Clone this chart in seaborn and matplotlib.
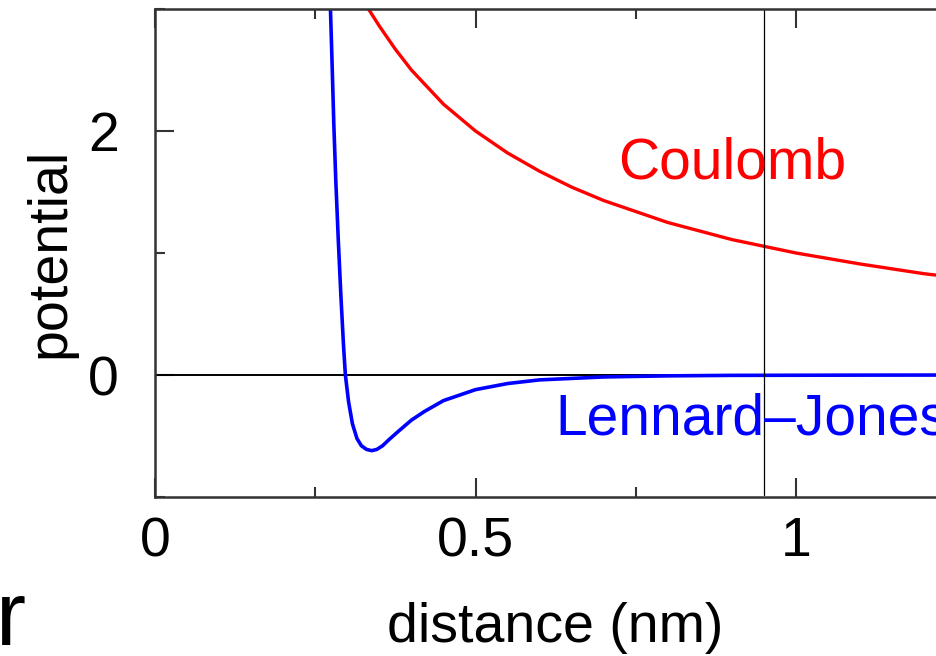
import numpy as np
import matplotlib
matplotlib.use("Agg")
import matplotlib.pyplot as plt
import seaborn as sns

# values
r_coulomb = [0.325, 0.333, 0.35, 0.375, 0.40, 0.45, 0.50, 0.55, 0.60, 0.65, 0.70,
             0.80, 0.90, 1.00, 1.10, 1.20, 1.30]
v_coulomb = [3.08, 3.00, 2.86, 2.67, 2.50, 2.22, 2.00, 1.82, 1.67, 1.54, 1.43,
             1.25, 1.11, 1.00, 0.91, 0.83, 0.77]

r_lj = [0.272, 0.276, 0.279, 0.282, 0.286, 0.290, 0.294, 0.297, 0.302, 0.308, 0.315,
        0.322, 0.330, 0.338, 0.346, 0.355, 0.365, 0.38, 0.40, 0.42, 0.45, 0.50,
        0.55, 0.60, 0.70, 0.80, 0.90, 1.00, 1.10, 1.30]
v_lj = [3.3, 2.6, 2.05, 1.6, 1.1, 0.65, 0.25, 0.0, -0.22, -0.40, -0.52,
        -0.58, -0.61, -0.62, -0.61, -0.58, -0.53, -0.46, -0.37, -0.30, -0.21, -0.12,
        -0.07, -0.04, -0.016, -0.007, -0.003, -0.002, -0.001, 0.0]

x_major = [0, 0.5, 1]
x_minor = [0.25, 0.75, 1.25]
y_major = [0, 2]
y_minor = [-1, 1, 3]
x_marker = 0.95

sns.set_style("ticks")
plt.rcParams['font.family'] = ['Liberation Sans', 'DejaVu Sans']
plt.rcParams['text.color'] = 'black'
plt.rcParams['axes.labelcolor'] = 'black'

fig = plt.figure(figsize=(9.36, 6.56), dpi=100)
ax = fig.add_axes([155 / 936, 159 / 656, 1.3 * 641 / 936, 488 / 656])

sns.lineplot(x=r_coulomb, y=v_coulomb, color="#ff0000", lw=2.4, ax=ax)
sns.lineplot(x=r_lj, y=v_lj, color="#0000ff", lw=2.6, ax=ax)
ax.axhline(0, color="black", lw=1.4, zorder=1)
ax.axvline(x_marker, ymin=0.004, ymax=1.0, color="black", lw=0.9)

ax.set_xlim(0, 1.3)
ax.set_ylim(-1, 3)
ax.set_xticks(x_major)
ax.set_xticklabels(["0", "0.5", "1"])
ax.set_xticks(x_minor, minor=True)
ax.set_yticks(y_major)
ax.set_yticklabels(["0", "2"])
ax.set_yticks(y_minor, minor=True)

for s in ax.spines.values():
    s.set_color("#333333")
    s.set_linewidth(1.8)
ax.tick_params(which="both", direction="in", top=True, right=True,
               color="#333333", width=1.5, labelsize=40, labelcolor="black")
ax.tick_params(which="major", length=13.5)
ax.tick_params(which="minor", length=7)
ax.tick_params(axis="x", which="major", pad=14)
ax.tick_params(axis="y", which="major", pad=26)

ax.set_xlabel("distance (nm)", fontsize=40)
ax.xaxis.set_label_coords((555 - 155) / (1.3 * 641), -0.215)
ax.set_ylabel("potential", fontsize=40)
ax.yaxis.set_label_coords(-0.094, 0.5)

ax.text(0.722, 1.607, "Coulomb", color="#ff0000", fontsize=41, va="baseline")
ax.text(0.624, -0.484, "Lennard\u2013Jones", color="#0000ff", fontsize=41,
        va="baseline", clip_on=True)

fig.text(-0.004, 0.017, "r", fontsize=65, va="baseline")

fig.savefig("out.png", dpi=100)
